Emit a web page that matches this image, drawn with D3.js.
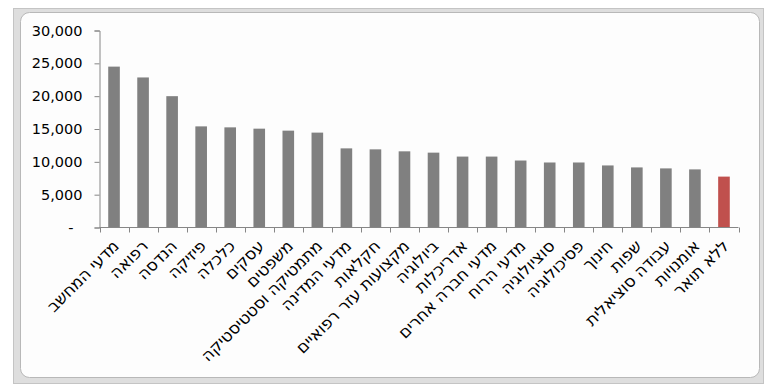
<!DOCTYPE html>
<html>
<head>
<meta charset="utf-8">
<script src="https://cdn.jsdelivr.net/npm/d3@7"></script>
<style>
  body { margin: 0; background: #fff; }
  text { font-family: "DejaVu Sans", sans-serif; }
</style>
</head>
<body>
<div class="chart"></div>
<script>
// categories (left to right) and values
var categories = ['מדעי המחשב', 'רפואה', 'הנדסה', 'פיזיקה', 'כלכלה', 'עסקים', 'משפטים',
  'מתמטיקה וסטטיסטיקה', 'מדעי המדינה', 'חקלאות', 'מקצועות עזר רפואיים', 'ביולוגיה',
  'אדריכלות', 'מדעי חברה אחרים', 'מדעי הרוח', 'סוציולוגיה', 'פסיכולוגיה', 'חינוך',
  'שפות', 'עבודה סוציאלית', 'אומנויות', 'ללא תואר'];
var values = [24500, 22850, 20000, 15400, 15250, 15050, 14750, 14450, 12050, 11900,
  11600, 11400, 10800, 10800, 10200, 9900, 9900, 9450, 9150, 9000, 8850, 7750];
var highlight = ['ללא תואר'];
var yTicks = [0, 5000, 10000, 15000, 20000, 25000, 30000];

var width = 767,
  height = 385;

var svg = d3.select('.chart')
  .append('svg')
  .attr('width', width)
  .attr('height', height);

//FRAME
svg.append('rect')
  .attr('x', 13.5).attr('y', 8.5)
  .attr('width', 750).attr('height', 375)
  .attr('fill', '#dedede')
  .attr('stroke', '#c4c4c4');

svg.append('rect')
  .attr('x', 20.5).attr('y', 12.5)
  .attr('width', 739).attr('height', 365)
  .attr('rx', 9)
  .attr('fill', '#fdfdfd')
  .attr('stroke', '#b8b8b8');

//SCALES
var xScale = d3.scaleBand()
  .domain(categories)
  .range([99.5, 738.5])
  .paddingInner(0.6)
  .paddingOuter(0.3);

var yScale = d3.scaleLinear()
  .domain([0, 30000])
  .range([227.5, 30.5]);

//BARS
svg.selectAll('.bar')
  .data(categories)
  .enter()
  .append('rect')
  .attr('class', 'bar')
  .attr('x', function(d) { return xScale(d); })
  .attr('width', xScale.bandwidth())
  .attr('y', function(d, i) { return yScale(values[i]); })
  .attr('height', function(d, i) { return yScale(0) - yScale(values[i]); })
  .attr('fill', function(d) { return highlight.indexOf(d) >= 0 ? '#c0504d' : '#808080'; });

//AXES
var yAxis = d3.axisLeft(yScale)
  .tickValues(yTicks)
  .tickSize(5)
  .tickPadding(12)
  .tickFormat(function(d) { return d === 0 ? '-' : d3.format(',')(d); });

var yAxisG = svg.append('g')
  .attr('transform', 'translate(99.5,0)')
  .call(yAxis);

yAxisG.select('.domain').attr('stroke', '#868686');
yAxisG.selectAll('.tick line').attr('stroke', '#868686');
yAxisG.selectAll('.tick text')
  .attr('fill', '#000')
  .style('font-size', '14.5px')
  .attr('dx', function(d) { return d === 0 ? -9 : 0; });

// x axis: tick at every category boundary
var step = xScale.step();
var boundaries = d3.range(categories.length + 1).map(function(i) { return 99.5 + i * step; });

svg.append('line')
  .attr('x1', 99.5).attr('x2', 738.5)
  .attr('y1', yScale(0)).attr('y2', yScale(0))
  .attr('stroke', '#868686');

svg.selectAll('.xtick')
  .data(boundaries)
  .enter()
  .append('line')
  .attr('class', 'xtick')
  .attr('x1', function(d) { return Math.round(d) + 0.5; })
  .attr('x2', function(d) { return Math.round(d) + 0.5; })
  .attr('y1', yScale(0)).attr('y2', yScale(0) + 5)
  .attr('stroke', '#868686');

//X LABELS rotated
svg.selectAll('.xlabel')
  .data(categories)
  .enter()
  .append('text')
  .attr('class', 'xlabel')
  .attr('transform', function(d) {
    var cx = xScale(d) + xScale.bandwidth() / 2;
    return 'translate(' + (cx + 6) + ',' + 247 + ') rotate(-45)';
  })
  .attr('text-anchor', 'end')
  .style('font-size', '16.5px')
  .attr('fill', '#000')
  .text(function(d) { return d; });
</script>
</body>
</html>
